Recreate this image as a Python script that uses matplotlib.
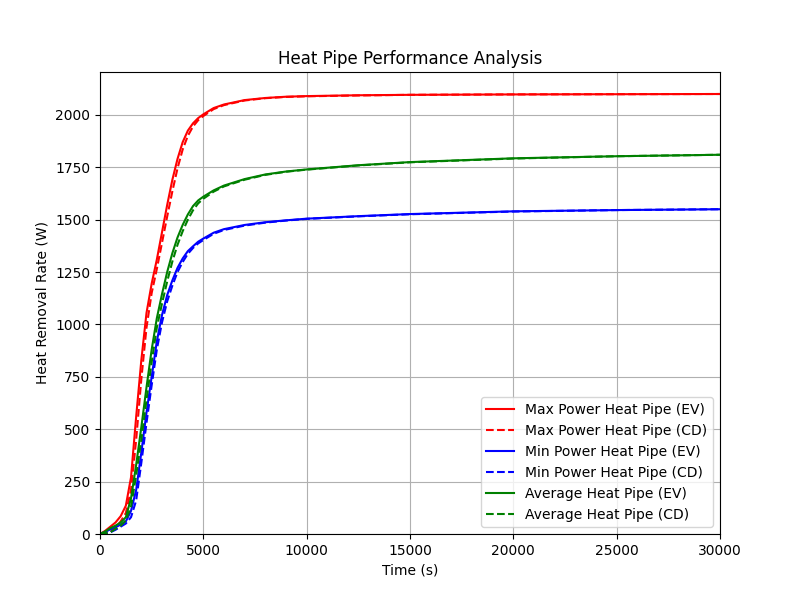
import matplotlib
matplotlib.use("Agg")
import matplotlib.pyplot as plt
import numpy as np

# time samples (s)
time = [0, 250, 500, 750, 1000, 1250, 1500, 1750, 2000, 2250, 2500, 2750, 3000,
        3250, 3500, 3750, 4000, 4250, 4500, 4750, 5000, 5500, 6000, 7000, 8000,
        9000, 10000, 12500, 15000, 20000, 25000, 30000]

max_ev = [0, 15, 35, 55, 85, 135, 270, 560, 830, 1055, 1195, 1310, 1440,
          1570, 1690, 1790, 1870, 1925, 1960, 1985, 2003, 2033, 2050, 2071, 2081,
          2087, 2090, 2094, 2096, 2098, 2099, 2100]
max_cd = [0, 3, 10, 30, 60, 100, 210, 450, 740, 985, 1150, 1265, 1390,
          1515, 1635, 1745, 1835, 1900, 1945, 1975, 1995, 2028, 2047, 2069, 2080,
          2086, 2089, 2093, 2096, 2098, 2099, 2100]

min_ev = [0, 10, 22, 32, 45, 60, 110, 210, 390, 580, 750, 920, 1045,
          1140, 1210, 1270, 1315, 1350, 1373, 1395, 1410, 1438, 1455, 1475, 1488,
          1497, 1505, 1517, 1527, 1540, 1546, 1550]
min_cd = [0, 3, 8, 20, 35, 50, 80, 160, 340, 530, 710, 880, 1010,
          1110, 1185, 1250, 1298, 1337, 1365, 1387, 1403, 1433, 1451, 1472, 1486,
          1496, 1504, 1516, 1526, 1539, 1546, 1550]

avg_ev = [0, 12, 28, 40, 55, 80, 170, 330, 510, 700, 880, 1030, 1145,
          1250, 1340, 1415, 1475, 1525, 1565, 1592, 1610, 1640, 1663, 1694, 1716,
          1730, 1740, 1760, 1775, 1793, 1803, 1810]
avg_cd = [0, 3, 8, 25, 40, 65, 130, 280, 450, 640, 820, 985, 1100,
          1205, 1300, 1380, 1445, 1500, 1545, 1578, 1600, 1634, 1659, 1691, 1714,
          1729, 1739, 1759, 1774, 1792, 1803, 1810]

fig, ax = plt.subplots(figsize=(8, 6), dpi=100)

ax.plot(time, max_ev, color='red', linestyle='-', label='Max Power Heat Pipe (EV)')
ax.plot(time, max_cd, color='red', linestyle='--', label='Max Power Heat Pipe (CD)')
ax.plot(time, min_ev, color='blue', linestyle='-', label='Min Power Heat Pipe (EV)')
ax.plot(time, min_cd, color='blue', linestyle='--', label='Min Power Heat Pipe (CD)')
ax.plot(time, avg_ev, color='green', linestyle='-', label='Average Heat Pipe (EV)')
ax.plot(time, avg_cd, color='green', linestyle='--', label='Average Heat Pipe (CD)')

ax.set_xlim(0, 30000)
ax.set_ylim(bottom=0)
ax.set_xlabel('Time (s)')
ax.set_ylabel('Heat Removal Rate (W)')
ax.set_title('Heat Pipe Performance Analysis')
ax.grid(True)
ax.legend(loc='lower right')

fig.savefig('out.png')
